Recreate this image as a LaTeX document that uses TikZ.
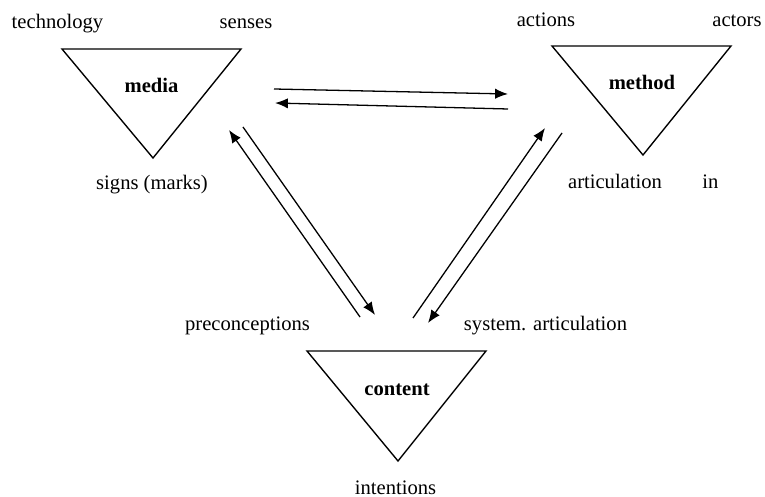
\documentclass[tikz,border=0pt]{standalone}
\usepackage{fontspec}
\setmainfont{Liberation Serif}
\usetikzlibrary{arrows.meta}

\tikzset{
  lbl/.style={inner sep=0, anchor=base},
  tri/.style={line width=0.8pt, line join=miter},
  link/.style={->, line width=0.75pt}
}

\begin{document}
\begin{tikzpicture}[>={Latex[length=7.5pt,width=6pt]}, x=0.5825pt, y=-0.5825pt, font=\fontsize{12}{14}\selectfont]

\useasboundingbox (0,0) rectangle (765,497);

% media
\draw[tri] (62,49) -- (241,49) -- (153,158) -- cycle;
\node[lbl] (media) at (151.5,93) {\textbf{media}};
\node[lbl] (technology) at (57.5,29) {technology};
\node[lbl] (senses) at (246,29) {senses};
\node[lbl] (signs) at (152,190) {signs (marks)};

% method
\draw[tri] (552,46) -- (731,46) -- (643,155) -- cycle;
\node[lbl] (method) at (642,90) {\textbf{method}};
\node[lbl] (actions) at (546,27) {actions};
\node[lbl] (actors) at (737,27) {actors};
\node[lbl] (articulation) at (615,189) {articulation};
\node[lbl] (in) at (710.5,189) {in};

% content
\draw[tri] (307,351) -- (486,351) -- (398,461) -- cycle;
\node[lbl] (content) at (397,395) {\textbf{content}};
\node[lbl] (preconceptions) at (247.5,330) {preconceptions};
\node[lbl] (sysart) at (545.5,330) {system. articulation};
\node[lbl] (intentions) at (395.5,494) {intentions};

% link ends
\coordinate (mdm1) at (274,89);  \coordinate (mtm1) at (508,94);
\coordinate (mtm2) at (508,109); \coordinate (mdm2) at (275,103);
\coordinate (ctm1) at (360,317); \coordinate (mdc1) at (229,130);
\coordinate (mdc2) at (243,127); \coordinate (ctm2) at (375,315);
\coordinate (ctc1) at (413,318); \coordinate (mtc1) at (545,128);
\coordinate (mtc2) at (562,133); \coordinate (ctc2) at (428,323);

\draw[link] (mdm1) -- (mtm1);
\draw[link] (mtm2) -- (mdm2);
\draw[link] (ctm1) -- (mdc1);
\draw[link] (mdc2) -- (ctm2);
\draw[link] (ctc1) -- (mtc1);
\draw[link] (mtc2) -- (ctc2);

\end{tikzpicture}
\end{document}
